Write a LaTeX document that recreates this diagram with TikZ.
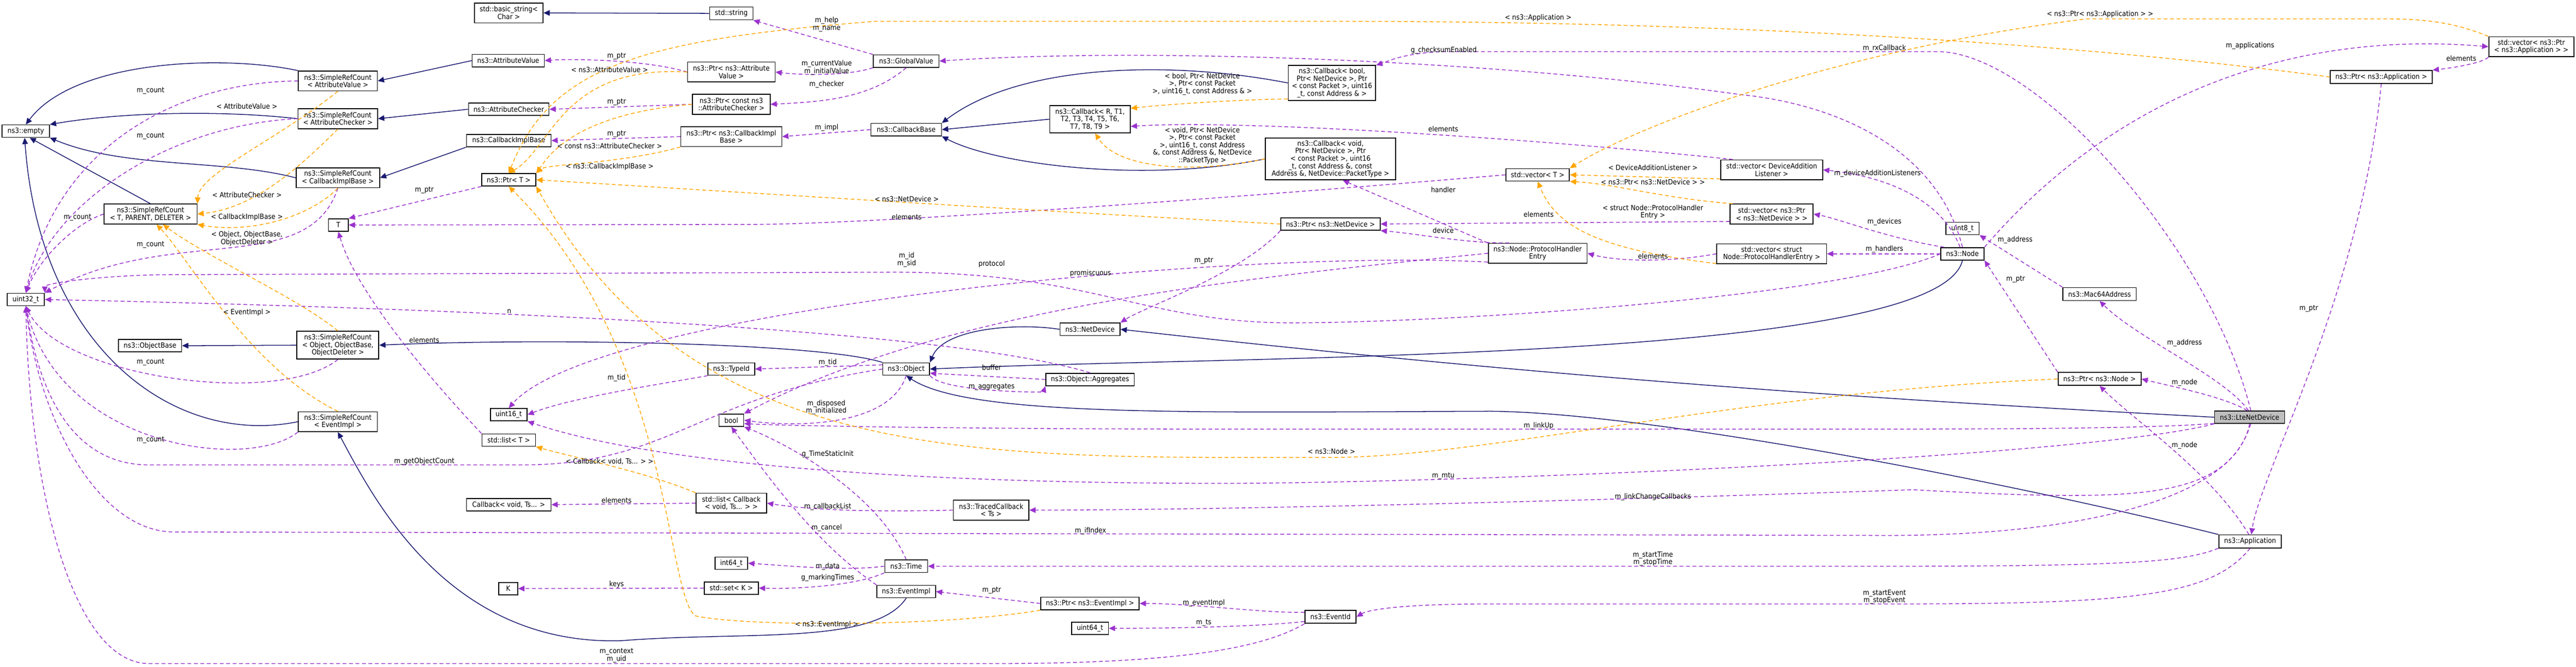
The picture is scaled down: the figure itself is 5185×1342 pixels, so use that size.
\documentclass[tikz,border=0pt]{standalone}
\usepackage{fontspec}
\setmainfont{DejaVu Sans Condensed}
\usetikzlibrary{arrows.meta}
\definecolor{navy}{HTML}{191970}
\definecolor{purp}{HTML}{9A32CD}
\definecolor{orng}{HTML}{FFA500}
\tikzset{
 box/.style={draw=black,fill=white,line width=0.5pt,align=center,inner sep=0pt,font=\fontsize{4.1}{4.3}\selectfont},
 lbl/.style={align=center,inner sep=0pt,font=\fontsize{4.1}{4.3}\selectfont},
 inh/.style={draw=navy,line width=0.45pt,-{Triangle[length=3.6pt,width=3.2pt]},fill=none},
 use/.style={draw=purp,line width=0.45pt,dash pattern=on 2.2pt off 1.5pt,-{Triangle[length=3.6pt,width=3.2pt,fill=purp]}},
 tmpl/.style={draw=orng,line width=0.45pt,dash pattern=on 2.2pt off 1.5pt,-{Triangle[length=3.6pt,width=3.2pt,fill=orng]}}
}
\newcommand{\bx}[6]{\node[box,minimum width=#4*0.01cm,minimum height=#5*0.01cm] (#1) at (#2,#3) {#6};}
\begin{document}
\begin{tikzpicture}[x=0.01cm,y=-0.01cm]
\useasboundingbox[fill=white] (0,0) rectangle (5185,1342);
\bx{bstr}{1024}{26}{138}{40}{std::basic\_string<\\ Char >}
\bx{string}{1472}{27}{87}{26}{std::string}
\bx{AV}{1023}{122}{145}{25}{ns3::AttributeValue}
\bx{SRCAV}{680}{163}{159}{40}{ns3::SimpleRefCount\\< AttributeValue >}
\bx{SRCAC}{680}{239}{160}{40}{ns3::SimpleRefCount\\< AttributeChecker >}
\bx{AC}{1024}{220}{162}{25}{ns3::AttributeChecker}
\bx{empty}{52}{264}{95}{25}{ns3::empty}
\bx{CIB}{1024}{283}{170}{25}{ns3::CallbackImplBase}
\bx{SRCCIB}{680}{358}{168}{40}{ns3::SimpleRefCount\\< CallbackImplBase >}
\bx{PtrT}{1024}{362}{109}{25}{ns3::Ptr< T >}
\bx{SRCTPD}{303}{431}{187}{40}{ns3::SimpleRefCount\\< T, PARENT, DELETER >}
\bx{T}{681}{453}{40}{25}{T}
\bx{uint32}{52}{603}{75}{25}{uint32\_t}
\bx{ObjectBase}{302}{696}{127}{25}{ns3::ObjectBase}
\bx{SRCObj}{680}{695}{165}{56}{ns3::SimpleRefCount\\< Object, ObjectBase,\\ ObjectDeleter >}
\bx{SRCEI}{680}{849}{159}{40}{ns3::SimpleRefCount\\< EventImpl >}
\bx{uint16}{1024}{835}{74}{25}{uint16\_t}
\bx{listT}{1024}{886}{108}{25}{std::list< T >}
\bx{CbVoidTs}{1024}{1016}{170}{25}{Callback< void, Ts... >}
\bx{K}{1023}{1185}{38}{25}{K}
\bx{GlobalValue}{1824}{123}{132}{25}{ns3::GlobalValue}
\bx{PtrAV}{1472}{145}{176}{40}{ns3::Ptr< ns3::Attribute\\Value >}
\bx{PtrAC}{1472}{210}{156}{40}{ns3::Ptr< const ns3\\::AttributeChecker >}
\bx{PtrCIB}{1472}{275}{203}{40}{ns3::Ptr< ns3::CallbackImpl\\Base >}
\bx{CallbackBase}{1824}{261}{142}{25}{ns3::CallbackBase}
\bx{CallbackR}{2194}{240}{162}{55}{ns3::Callback< R, T1,\\ T2, T3, T4, T5, T6,\\ T7, T8, T9 >}
\bx{NetDevice}{2194}{663}{121}{25}{ns3::NetDevice}
\bx{TypeId}{1472}{743}{94}{25}{ns3::TypeId}
\bx{Object}{1824}{743}{94}{25}{ns3::Object}
\bx{Aggregates}{2194}{764}{178}{25}{ns3::Object::Aggregates}
\bx{bool}{1472}{846}{50}{25}{bool}
\bx{listCb}{1472}{1013}{142}{40}{std::list< Callback\\< void, Ts... > >}
\bx{Traced}{1995}{1027}{152}{40}{ns3::TracedCallback\\< Ts >}
\bx{int64}{1472}{1134}{66}{25}{int64\_t}
\bx{Time}{1824}{1140}{86}{25}{ns3::Time}
\bx{setK}{1472}{1184}{109}{25}{std::set< K >}
\bx{EventImpl}{1824}{1191}{118}{25}{ns3::EventImpl}
\bx{PtrEI}{2194}{1215}{198}{25}{ns3::Ptr< ns3::EventImpl >}
\bx{uint64}{2194}{1265}{74}{25}{uint64\_t}
\bx{CbBool}{2681}{167}{176}{70}{ns3::Callback< bool,\\ Ptr< NetDevice >, Ptr\\< const Packet >, uint16\\\_t, const Address \& >}
\bx{CbVoid}{2678}{320}{263}{84}{ns3::Callback< void,\\ Ptr< NetDevice >, Ptr\\< const Packet >, uint16\\\_t, const Address \&, const\\ Address \&, NetDevice::PacketType >}
\bx{vecT}{3095}{352}{128}{25}{std::vector< T >}
\bx{vecDAL}{3566}{342}{205}{40}{std::vector< DeviceAddition\\Listener >}
\bx{vecPND}{3566}{431}{167}{40}{std::vector< ns3::Ptr\\< ns3::NetDevice > >}
\bx{PtrND}{2678}{451}{200}{25}{ns3::Ptr< ns3::NetDevice >}
\bx{PHE}{3095}{510}{199}{40}{ns3::Node::ProtocolHandler\\Entry}
\bx{vecPHE}{3566}{511}{221}{40}{std::vector< struct\\ Node::ProtocolHandlerEntry >}
\bx{EventId}{2678}{1242}{103}{26}{ns3::EventId}
\bx{vecPA}{5095}{94}{171}{40}{std::vector< ns3::Ptr\\< ns3::Application > >}
\bx{PtrApp}{4793}{155}{205}{26}{ns3::Ptr< ns3::Application >}
\bx{uint8}{3950}{460}{67}{25}{uint8\_t}
\bx{Node}{3950}{511}{87}{25}{ns3::Node}
\bx{Mac64}{4226}{592}{148}{26}{ns3::Mac64Address}
\bx{PtrNode}{4226}{763}{167}{26}{ns3::Ptr< ns3::Node >}
\node[box,fill={rgb,255:red,191;green,191;blue,191},minimum width=1.41cm,minimum height=0.25cm] (Lte) at (4528,840) {ns3::LteNetDevice};
\bx{App}{4529}{1090}{126}{26}{ns3::Application}

% inheritance
\draw[inh] (string.west) -- (bstr.east);
\draw[inh] (SRCAV.north west) .. controls (450,110) and (150,120) .. (empty.north);
\draw[inh] (AV.west) -- (SRCAV.east);
\draw[inh] (SRCAC.west) .. controls (450,222) and (250,225) .. (empty.north east);
\draw[inh] (AC.west) -- (SRCAC.east);
\draw[inh] (SRCCIB.west) .. controls (450,320) and (250,340) .. (empty.south east);
\draw[inh] (CIB.south west) -- (SRCCIB.east);
\draw[inh] (SRCTPD.north) -- (empty.-60);
\draw[inh] (SRCEI.west) .. controls (350,900) and (80,700) .. (empty.-100);
\draw[inh] (SRCObj.west) -- (ObjectBase.east);
\draw[inh] (Object.north west) .. controls (1650,690) and (1100,680) .. (SRCObj.east);
\draw[inh] (CallbackR.west) -- (CallbackBase.east);
\draw[inh] (CbBool.west) .. controls (2350,120) and (2050,130) .. (CallbackBase.north east);
\draw[inh] (CbVoid.west) .. controls (2300,370) and (2000,330) .. (CallbackBase.south east);
\draw[inh] (NetDevice.west) .. controls (2050,650) and (1900,660) .. (Object.north east);
\draw[inh] (Lte.west) .. controls (4000,815) and (3300,780) .. (NetDevice.east);
\draw[inh] (Node.south) .. controls (3900,730) and (2500,715) .. (Object.east);
\draw[inh] (App.north west) .. controls (4000,960) and (3300,830) .. (3000,828) .. controls (2400,830) and (1950,840) .. (Object.south);
\draw[inh] (EventImpl.south) .. controls (1760,1300) and (1500,1270) .. (1250,1290) .. controls (900,1300) and (750,1000) .. (SRCEI.south);

% usage
\draw[use] (SRCAV.west) .. controls (350,165) and (110,300) .. (uint32.north);
\draw[use] (SRCAC.west) .. controls (350,250) and (110,400) .. (uint32.north);
\draw[use] (SRCTPD.west) .. controls (150,450) and (80,520) .. (uint32.north);
\draw[use] (SRCCIB.south) .. controls (620,560) and (350,450) .. (uint32.north east);
\draw[use] (SRCObj.south) .. controls (560,820) and (120,760) .. (uint32.south);
\draw[use] (SRCEI.south west) .. controls (500,950) and (120,900) .. (uint32.south);
\draw[use] (Aggregates.north) .. controls (1900,660) and (900,620) .. (uint32.east);
\draw[use] (Object.west) .. controls (1400,800) and (1350,936) .. (1050,936) -- (300,936) .. controls (150,936) and (80,800) .. (uint32.south);
\draw[use] (Lte.south) .. controls (4500,1000) and (4200,1078) .. (3800,1078) -- (350,1071) .. controls (200,1071) and (80,850) .. (uint32.south);
\draw[use] (EventId.south west) .. controls (2550,1300) and (2400,1336) .. (2000,1336) -- (300,1336) .. controls (150,1336) and (60,1000) .. (uint32.south);
\draw[use] (Node.west) .. controls (3700,600) and (2900,650) .. (2600,650) .. controls (2300,650) and (2200,548) .. (1800,548) -- (330,553) .. controls (200,555) and (90,570) .. (uint32.north east);
\draw[use] (GlobalValue.north west) -- (string.south east);
\draw[use] (GlobalValue.south west) .. controls (1700,155) and (1600,150) .. (PtrAV.east);
\draw[use] (GlobalValue.south) .. controls (1750,200) and (1650,205) .. (PtrAC.east);
\draw[use] (PtrAV.west) .. controls (1300,120) and (1150,118) .. (AV.east);
\draw[use] (PtrAC.west) -- (AC.east);
\draw[use] (PtrCIB.west) -- (CIB.east);
\draw[use] (CallbackBase.west) -- (PtrCIB.east);
\draw[use] (PtrT.south west) -- (T.north east);
\draw[use] (vecT.west) .. controls (2700,380) and (1800,452) .. (1500,452) -- (T.east);
\draw[use] (listT.north west) .. controls (900,800) and (720,600) .. (T.south);
\draw[use] (listCb.west) -- (CbVoidTs.east);
\draw[use] (setK.west) -- (K.east);
\draw[use] (Time.west) .. controls (1700,1150) and (1600,1140) .. (int64.east);
\draw[use] (Time.south west) .. controls (1720,1180) and (1600,1186) .. (setK.east);
\draw[use] (Time.north) .. controls (1770,1000) and (1600,900) .. (bool.south east);
\draw[use] (EventImpl.north west) .. controls (1650,1100) and (1560,980) .. (bool.south);
\draw[use] (PtrEI.west) -- (EventImpl.east);
\draw[use] (EventId.170) .. controls (2550,1235) and (2400,1215) .. (PtrEI.east);
\draw[use] (EventId.190) .. controls (2550,1260) and (2400,1265) .. (uint64.east);
\draw[use] (App.south west) .. controls (4400,1130) and (4300,1140) .. (3800,1140) -- (Time.east);
\draw[use] (App.south) .. controls (4450,1200) and (4300,1216) .. (3800,1216) -- (3000,1216) .. controls (2800,1216) and (2750,1230) .. (EventId.east);
\draw[use] (Object.170) -- (TypeId.east);
\draw[use] (TypeId.south west) .. controls (1350,770) and (1150,800) .. (uint16.east);
\draw[use] (Object.south) .. controls (1790,860) and (1600,860) .. (bool.east);
\draw[use] (PHE.west) .. controls (2500,560) and (1900,620) .. (bool.north east);
\draw[use] (PHE.190) .. controls (2500,500) and (1200,620) .. (uint16.north);
\draw[use] (Aggregates.west) -- (Object.-10);
\draw[use] (Object.south east) .. controls (1900,790) and (2100,790) .. (Aggregates.south west);
\draw[use] (Traced.west) .. controls (1800,1030) and (1650,1030) .. (listCb.east);
\draw[use] (Lte.-80) .. controls (4480,1010) and (4300,1010) .. (3850,986) .. controls (3300,1005) and (2500,1027) .. (Traced.east);
\draw[use] (Lte.190) .. controls (4300,865) and (3900,864) .. (3500,864) -- (2500,864) .. controls (2000,864) and (1600,858) .. (bool.-15);
\draw[use] (Lte.south west) .. controls (4200,920) and (3000,970) .. (2500,973) .. controls (1800,975) and (1300,930) .. (uint16.south east);
\draw[use] (Lte.110) .. controls (4480,800) and (4380,780) .. (PtrNode.east);
\draw[use] (Lte.100) .. controls (4480,760) and (4300,680) .. (Mac64.south);
\draw[use] (Lte.80) .. controls (4450,500) and (4100,104) .. (3900,104) -- (2900,104) .. controls (2820,108) and (2790,125) .. (CbBool.north east);
\draw[use] (App.100) .. controls (4450,950) and (4300,850) .. (PtrNode.south);
\draw[use] (PtrApp.south) .. controls (4750,600) and (4550,950) .. (App.80);
\draw[use] (vecPA.south west) .. controls (5000,125) and (4950,135) .. (PtrApp.north east);
\draw[use] (Node.north east) .. controls (4250,200) and (4600,60) .. (vecPA.west);
\draw[use] (Mac64.north west) -- (uint8.south east);
\draw[use] (PtrNode.north west) -- (Node.south east);
\draw[use] (Node.110) .. controls (3900,380) and (3750,350) .. (vecDAL.east);
\draw[use] (Node.160) .. controls (3800,480) and (3700,440) .. (vecPND.east);
\draw[use] (Node.west) -- (vecPHE.east);
\draw[use] (Node.north) .. controls (3900,300) and (3700,210) .. (3500,190) .. controls (3000,120) and (2300,95) .. (GlobalValue.east);
\draw[use] (vecPND.190) -- (PtrND.east);
\draw[use] (PHE.160) .. controls (2950,490) and (2850,470) .. (PtrND.south east);
\draw[use] (PHE.north west) -- (CbVoid.-60);
\draw[use] (vecPHE.west) .. controls (3350,530) and (3250,525) .. (PHE.east);
\draw[use] (vecDAL.165) .. controls (3100,280) and (2500,240) .. (CallbackR.-10);
\draw[use] (PtrND.south west) .. controls (2500,550) and (2300,620) .. (NetDevice.north east);

% templates
\draw[tmpl] (SRCAV.south) .. controls (560,280) and (400,350) .. (SRCTPD.north east);
\draw[tmpl] (SRCAC.south) .. controls (580,360) and (500,420) .. (SRCTPD.east);
\draw[tmpl] (SRCCIB.south) .. controls (620,440) and (500,470) .. (SRCTPD.south east);
\draw[tmpl] (SRCObj.north) .. controls (600,600) and (420,520) .. (SRCTPD.-40);
\draw[tmpl] (SRCEI.north) .. controls (500,740) and (380,520) .. (SRCTPD.-60);
\draw[tmpl] (PtrAV.west) .. controls (1130,130) and (1110,300) .. (PtrT.north);
\draw[tmpl] (PtrAC.west) .. controls (1150,230) and (1100,320) .. (PtrT.north east);
\draw[tmpl] (PtrCIB.south west) .. controls (1250,330) and (1100,330) .. (PtrT.north east);
\draw[tmpl] (PtrND.west) .. controls (2000,420) and (1300,375) .. (PtrT.east);
\draw[tmpl] (PtrApp.west) .. controls (4200,90) and (3500,43) .. (2700,43) -- (1760,43) .. controls (1300,80) and (1110,130) .. (PtrT.north);
\draw[tmpl] (PtrNode.west) .. controls (3500,790) and (3000,920) .. (2680,921) .. controls (2000,920) and (1400,950) .. (PtrT.south east);
\draw[tmpl] (PtrEI.south west) .. controls (1900,1262) and (1500,1262) .. (1400,1240) .. controls (1340,1200) and (1352,700) .. (PtrT.south);
\draw[tmpl] (CbBool.200) .. controls (2500,200) and (2350,210) .. (CallbackR.15);
\draw[tmpl] (CbVoid.west) .. controls (2400,350) and (2250,340) .. (CallbackR.-70);
\draw[tmpl] (vecDAL.190) -- (vecT.east);
\draw[tmpl] (vecPND.165) .. controls (3350,400) and (3250,370) .. (vecT.south east);
\draw[tmpl] (vecPHE.190) .. controls (3200,500) and (3130,450) .. (vecT.south);
\draw[tmpl] (vecPA.north west) .. controls (4950,50) and (4900,38) .. (4800,38) -- (4200,38) .. controls (3700,100) and (3300,250) .. (vecT.north east);
\draw[tmpl] (listCb.north west) .. controls (1300,950) and (1150,920) .. (listT.south east);

% labels
\node[lbl] at (303,183) {m\_count};
\node[lbl] at (303,274) {m\_count};
\node[lbl] at (156,438) {m\_count};
\node[lbl] at (303,493) {m\_count};
\node[lbl] at (303,729) {m\_count};
\node[lbl] at (303,886) {m\_count};
\node[lbl] at (497,214) {< AttributeValue >};
\node[lbl] at (497,392) {< AttributeChecker >};
\node[lbl] at (497,437) {< CallbackImplBase >};
\node[lbl] at (497,480) {< Object, ObjectBase,\\ ObjectDeleter >};
\node[lbl] at (497,629) {< EventImpl >};
\node[lbl] at (1025,627) {n};
\node[lbl] at (854,383) {m\_ptr};
\node[lbl] at (854,685) {elements};
\node[lbl] at (854,929) {m\_getObjectCount};
\node[lbl] at (1241,113) {m\_ptr};
\node[lbl] at (1227,140) {< ns3::AttributeValue >};
\node[lbl] at (1241,206) {m\_ptr};
\node[lbl] at (1241,270) {m\_ptr};
\node[lbl] at (1227,294) {< const ns3::AttributeChecker >};
\node[lbl] at (1227,336) {< ns3::CallbackImplBase >};
\node[lbl] at (1241,761) {m\_tid};
\node[lbl] at (1227,929) {< Callback< void, Ts... > >};
\node[lbl] at (1241,1007) {elements};
\node[lbl] at (1241,1177) {keys};
\node[lbl] at (1241,1320) {m\_context\\m\_uid};
\node[lbl] at (1664,49) {m\_help\\m\_name};
\node[lbl] at (1664,136) {m\_currentValue\\m\_initialValue};
\node[lbl] at (1664,170) {m\_checker};
\node[lbl] at (1664,257) {m\_impl};
\node[lbl] at (2420,169) {< bool, Ptr< NetDevice\\ >, Ptr< const Packet\\ >, uint16\_t, const Address \& >};
\node[lbl] at (2420,293) {< void, Ptr< NetDevice\\ >, Ptr< const Packet\\ >, uint16\_t, const Address\\ \&, const Address \&, NetDevice\\ ::PacketType >};
\node[lbl] at (1825,401) {< ns3::NetDevice >};
\node[lbl] at (1825,437) {elements};
\node[lbl] at (1825,523) {m\_id\\m\_sid};
\node[lbl] at (1996,532) {protocol};
\node[lbl] at (2195,550) {promiscuous};
\node[lbl] at (2423,525) {m\_ptr};
\node[lbl] at (1666,730) {m\_tid};
\node[lbl] at (1996,740) {buffer};
\node[lbl] at (1996,779) {m\_aggregates};
\node[lbl] at (1663,820) {m\_disposed\\m\_initialized};
\node[lbl] at (1666,914) {g\_TimeStaticInit};
\node[lbl] at (1666,1020) {m\_callbackList};
\node[lbl] at (1664,1063) {m\_cancel};
\node[lbl] at (2195,1069) {m\_ifIndex};
\node[lbl] at (1666,1141) {m\_data};
\node[lbl] at (1666,1163) {g\_markingTimes};
\node[lbl] at (1996,1189) {m\_ptr};
\node[lbl] at (1664,1257) {< ns3::EventImpl >};
\node[lbl] at (2423,1214) {m\_eventImpl};
\node[lbl] at (2423,1254) {m\_ts};
\node[lbl] at (3096,36) {< ns3::Application >};
\node[lbl] at (2906,101) {g\_checksumEnabled};
\node[lbl] at (3793,97) {m\_rxCallback};
\node[lbl] at (2905,260) {elements};
\node[lbl] at (2905,382) {handler};
\node[lbl] at (3327,337) {< DeviceAdditionListener >};
\node[lbl] at (3327,366) {< ns3::Ptr< ns3::NetDevice > >};
\node[lbl] at (3327,427) {< struct Node::ProtocolHandler\\Entry >};
\node[lbl] at (3097,432) {elements};
\node[lbl] at (2905,464) {device};
\node[lbl] at (3327,516) {elements};
\node[lbl] at (3779,349) {m\_deviceAdditionListeners};
\node[lbl] at (3793,447) {m\_devices};
\node[lbl] at (3793,502) {m\_handlers};
\node[lbl] at (3097,857) {m\_linkUp};
\node[lbl] at (2680,909) {< ns3::Node >};
\node[lbl] at (2905,958) {m\_mtu};
\node[lbl] at (3327,1001) {m\_linkChangeCallbacks};
\node[lbl] at (3327,1125) {m\_startTime\\m\_stopTime};
\node[lbl] at (3793,1202) {m\_startEvent\\m\_stopEvent};
\node[lbl] at (4227,29) {< ns3::Ptr< ns3::Application > >};
\node[lbl] at (4529,92) {m\_applications};
\node[lbl] at (4954,118) {elements};
\node[lbl] at (4056,483) {m\_address};
\node[lbl] at (4057,562) {m\_ptr};
\node[lbl] at (4647,621) {m\_ptr};
\node[lbl] at (4397,690) {m\_address};
\node[lbl] at (4397,770) {m\_node};
\node[lbl] at (4397,897) {m\_node};
\end{tikzpicture}
\end{document}
